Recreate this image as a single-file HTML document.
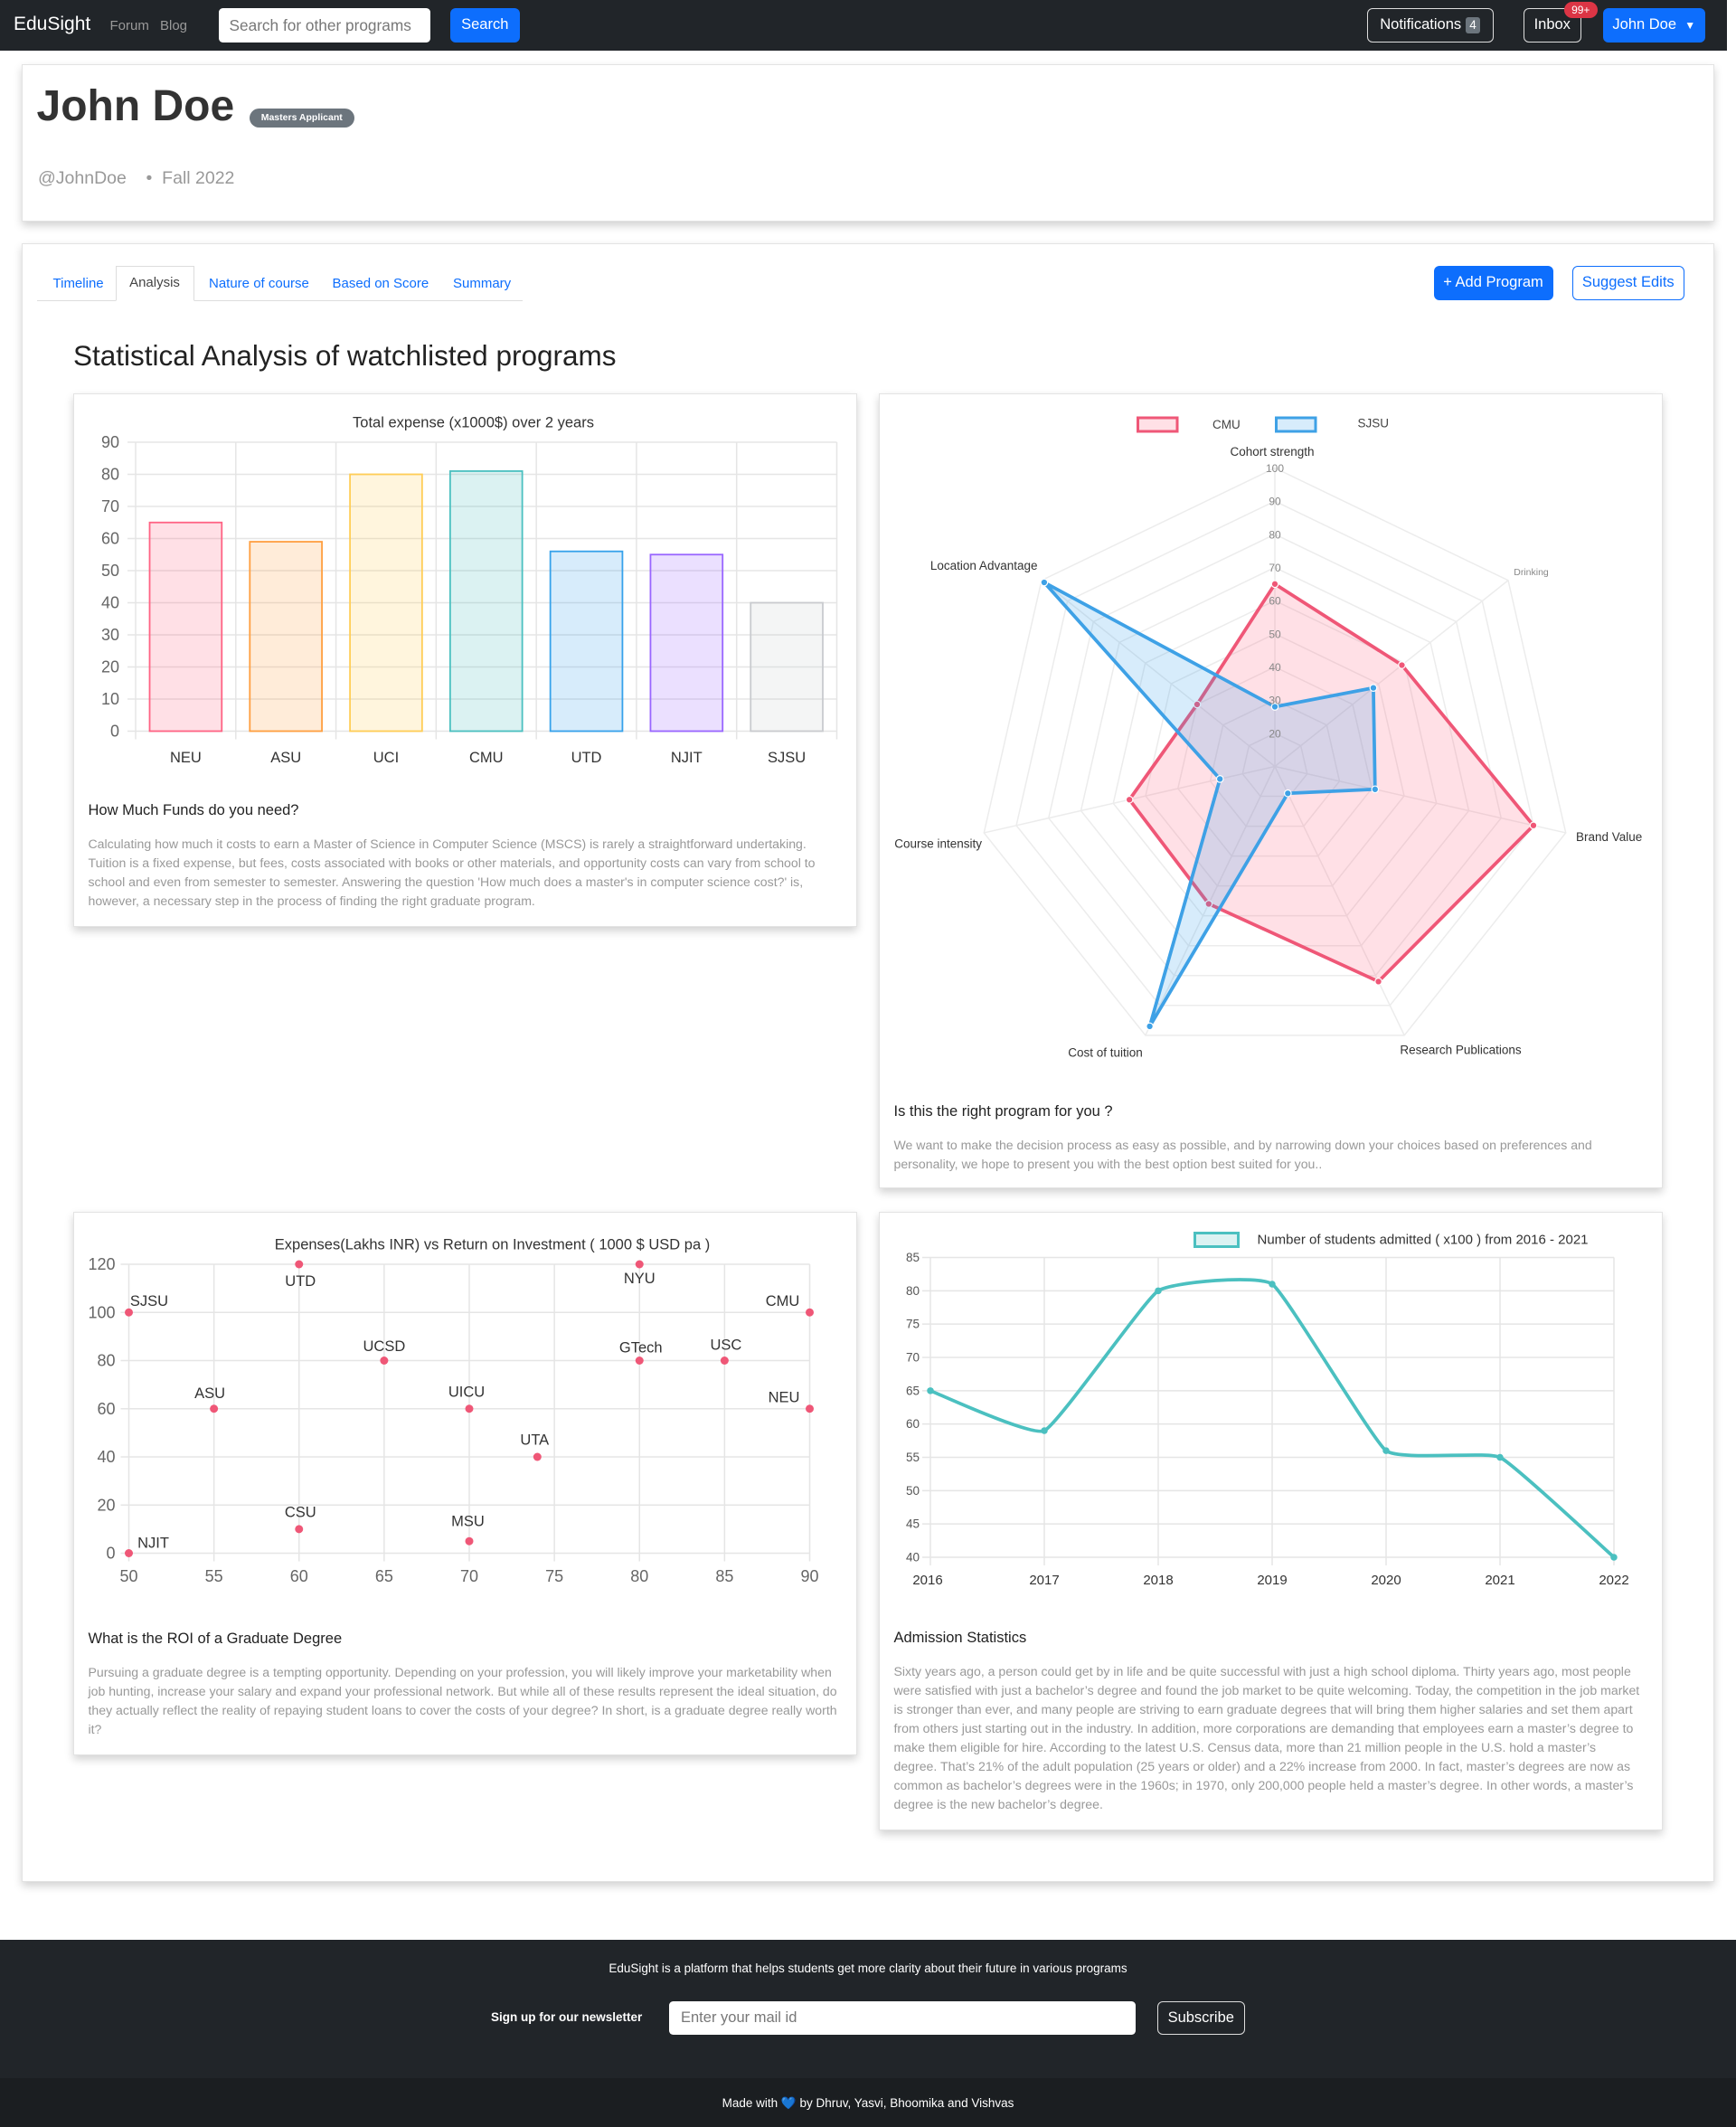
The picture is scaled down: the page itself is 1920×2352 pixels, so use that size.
<!DOCTYPE html>
<html><head><meta charset="utf-8">
<style>
*{box-sizing:border-box;margin:0;padding:0}
html,body{width:1920px;height:2352px;overflow:hidden;background:#fff;font-family:"Liberation Sans",sans-serif}
#root{zoom:1.5;width:1280px;height:1568px;position:relative}
.abs{position:absolute;white-space:nowrap}
.card{position:absolute;background:#fff;border:1px solid #e3e3e3;box-shadow:0 3px 6px rgba(0,0,0,.18)}
.btn{position:absolute;border-radius:4px;font-size:11px;display:flex;align-items:center;justify-content:center;white-space:nowrap}
.tab{position:absolute;font-size:10px;color:#0d6efd;white-space:nowrap}
.ct{position:absolute;font-size:11px;color:#222}
.para{position:absolute;font-size:9.4px;line-height:14px;color:#999}
svg text{font-family:"Liberation Sans",sans-serif}
</style></head><body>
<div id="root">
<div class="abs" style="left:0;top:0;width:1273px;height:37px;background:#212529"></div>
<div class="abs" style="left:10px;top:10px;color:#fff;font-size:14px">EduSight</div>
<div class="abs" style="left:81px;top:13px;color:#999;font-size:10px">Forum</div>
<div class="abs" style="left:118px;top:13px;color:#999;font-size:10px">Blog</div>
<div class="abs" style="left:161px;top:6px;width:156px;height:25px;background:#fff;border-radius:3px;font-size:11.5px;color:#777;padding:6px 8px;overflow:hidden">Search for other programs</div>
<div class="btn" style="left:332px;top:6px;width:51px;height:25px;background:#0d6efd;color:#fff">Search</div>
<div class="btn" style="left:1008px;top:6px;width:93px;height:25px;border:1px solid #ddd;color:#fff">Notifications&nbsp;<span style="background:#6c757d;font-size:9px;padding:1px 3px;border-radius:2px">4</span></div>
<div class="btn" style="left:1123px;top:6px;width:43px;height:25px;border:1px solid #ddd;color:#fff">Inbox</div>
<div class="btn" style="left:1153px;top:1px;width:25px;height:12px;border-radius:7px;background:#dc3545;color:#fff;font-size:8px">99+</div>
<div class="btn" style="left:1182px;top:6px;width:75px;height:25px;background:#0d6efd;color:#fff">John Doe&nbsp;&nbsp;<span style="font-size:8px">▼</span></div>

<div class="card" style="left:16px;top:47px;width:1248px;height:116px"></div>
<div class="abs" style="left:27px;top:60px;font-size:32px;font-weight:bold;color:#333">John Doe</div>
<div class="abs" style="left:184px;top:80px;width:77px;height:14px;border-radius:7px;background:#6c757d;color:#fff;font-size:7px;font-weight:bold;text-align:center;line-height:14px">Masters Applicant</div>
<div class="abs" style="left:28px;top:124px;font-size:13px;color:#999">@JohnDoe &nbsp;&nbsp;&nbsp;• &nbsp;Fall 2022</div>

<div class="card" style="left:16px;top:179px;width:1248px;height:1208px"></div>
<div class="abs" style="left:27px;top:221px;width:358px;height:1px;background:#ddd"></div>
<div class="tab" style="left:39px;top:203px">Timeline</div>
<div class="abs" style="left:85px;top:196px;width:58px;height:26px;border:1px solid #ddd;border-bottom:1px solid #fff;background:#fff;font-size:10px;color:#444;text-align:center;line-height:24px">Analysis</div>
<div class="tab" style="left:154px;top:203px">Nature of course</div>
<div class="tab" style="left:245px;top:203px">Based on Score</div>
<div class="tab" style="left:334px;top:203px">Summary</div>
<div class="btn" style="left:1057px;top:196px;width:88px;height:25px;background:#0d6efd;color:#fff">+ Add Program</div>
<div class="btn" style="left:1159px;top:196px;width:83px;height:25px;border:1px solid #0d6efd;color:#0d6efd">Suggest Edits</div>
<div class="abs" style="left:54px;top:250px;font-size:21px;color:#222">Statistical Analysis of watchlisted programs</div>

<div class="card" style="left:54px;top:290px;width:578px;height:393px"></div>
<div class="card" style="left:648px;top:290px;width:578px;height:586px"></div>
<div class="card" style="left:54px;top:893px;width:578px;height:401px"></div>
<div class="card" style="left:648px;top:893px;width:578px;height:456px"></div>

<svg class="abs" id="charts" style="left:0;top:0" width="1280" height="1568"></svg>

<div class="ct" style="left:65px;top:591px">How Much Funds do you need?</div>
<div class="para" style="left:65px;top:615px;width:545px">Calculating how much it costs to earn a Master of Science in Computer Science (MSCS) is rarely a straightforward undertaking. Tuition is a fixed expense, but fees, costs associated with books or other materials, and opportunity costs can vary from school to school and even from semester to semester. Answering the question 'How much does a master's in computer science cost?' is, however, a necessary step in the process of finding the right graduate program.</div>
<div class="ct" style="left:659px;top:813px">Is this the right program for you ?</div>
<div class="para" style="left:659px;top:837px;width:545px">We want to make the decision process as easy as possible, and by narrowing down your choices based on preferences and personality, we hope to present you with the best option best suited for you..</div>
<div class="ct" style="left:65px;top:1202px">What is the ROI of a Graduate Degree</div>
<div class="para" style="left:65px;top:1226px;width:555px">Pursuing a graduate degree is a tempting opportunity. Depending on your profession, you will likely improve your marketability when job hunting, increase your salary and expand your professional network. But while all of these results represent the ideal situation, do they actually reflect the reality of repaying student loans to cover the costs of your degree? In short, is a graduate degree really worth it?</div>
<div class="ct" style="left:659px;top:1201px">Admission Statistics</div>
<div class="para" style="left:659px;top:1225px;width:552px">Sixty years ago, a person could get by in life and be quite successful with just a high school diploma. Thirty years ago, most people were satisfied with just a bachelor’s degree and found the job market to be quite welcoming. Today, the competition in the job market is stronger than ever, and many people are striving to earn graduate degrees that will bring them higher salaries and set them apart from others just starting out in the industry. In addition, more corporations are demanding that employees earn a master’s degree to make them eligible for hire. According to the latest U.S. Census data, more than 21 million people in the U.S. hold a master’s degree. That’s 21% of the adult population (25 years or older) and a 22% increase from 2000. In fact, master’s degrees are now as common as bachelor’s degrees were in the 1960s; in 1970, only 200,000 people held a master’s degree. In other words, a master’s degree is the new bachelor’s degree.</div>

<div class="abs" style="left:0;top:1430px;width:1280px;height:138px;background:#212529"></div>
<div class="abs" style="left:0;top:1532px;width:1280px;height:36px;background:#1b1e21"></div>
<div class="abs" style="left:0;top:1446px;width:1280px;text-align:center;color:#fff;font-size:9px">EduSight is a platform that helps students get more clarity about their future in various programs</div>
<div class="abs" style="left:362px;top:1482px;color:#fff;font-size:9px;font-weight:bold">Sign up for our newsletter</div>
<div class="abs" style="left:493px;top:1475px;width:344px;height:25px;background:#fff;border-radius:3px;font-size:11px;color:#777;padding:6px 9px">Enter your mail id</div>
<div class="btn" style="left:853px;top:1475px;width:65px;height:25px;border:1px solid #ddd;color:#fff">Subscribe</div>
<div class="abs" style="left:0;top:1545px;width:1280px;text-align:center;color:#fff;font-size:9px">Made with <span style="color:#3d8bfd">💙</span> by Dhruv, Yasvi, Bhoomika and Vishvas</div>
</div>
<script>
// ---- bar chart data
const barCats=["NEU","ASU","UCI","CMU","UTD","NJIT","SJSU"];
const barVals=[65,59,80,81,56,55,40];
const barTicks=[0,10,20,30,40,50,60,70,80,90];
// ---- radar data
const radarAxes=["Cohort strength","Drinking","Brand Value","Research Publications","Cost of tuition","Course intensity","Location Advantage"];
const radarCMU=[65,59,90,82,56,55,40];
const radarSJSU=[28,48,41,19,97,27,99];
const radarTicks=[20,30,40,50,60,70,80,90,100];
// ---- scatter data
const scLabels=["SJSU","UTD","NYU","CMU","UCSD","GTech","USC","ASU","UICU","NEU","UTA","CSU","MSU","NJIT"];
const scX=[50,60,80,90,65,80,85,55,70,90,74,60,70,50];
const scY=[100,120,120,100,80,80,80,60,60,60,40,10,5,0];
const scXTicks=[50,55,60,65,70,75,80,85,90];
const scYTicks=[0,20,40,60,80,100,120];
// ---- line data
const lineYears=[2016,2017,2018,2019,2020,2021,2022];
const lineVals=[65,59,80,81,56,55,40];
const lineTicks=[40,45,50,55,60,65,70,75,80,85];

const svg=document.getElementById('charts');
const NS='http://www.w3.org/2000/svg';
function mk(tag,a,txt){const e=document.createElementNS(NS,tag);for(const k in a)e.setAttribute(k,a[k]);if(txt!==undefined)e.textContent=txt;svg.appendChild(e);return e;}

// Bar chart
(function(){
 const x0=100,x1=617,y0=539,y1=326,max=90;
 const ys=v=>y0-(v/max)*(y0-y1);
 const bw=(x1-x0)/barCats.length;
 const t=mk('text',{x:349,y:315,'text-anchor':'middle','font-size':11,fill:'#333'},'Total expense (x1000$) over 2 years');
 
 barTicks.forEach(v=>{const g=mk('line',{x1:x0-6,x2:x1,y1:ys(v),y2:ys(v),stroke:'#e5e5e5'});
  const l=mk('text',{x:88,y:ys(v)+4,'text-anchor':'end','font-size':12,fill:'#666'},v);});
 for(let i=0;i<=barCats.length;i++){const g=mk('line',{x1:x0+i*bw,x2:x0+i*bw,y1:y1,y2:y0+6,stroke:'#e5e5e5'});}
 const fills=['rgba(255,99,132,.2)','rgba(255,159,64,.2)','rgba(255,205,86,.2)','rgba(75,192,192,.2)','rgba(54,162,235,.2)','rgba(153,102,255,.2)','rgba(201,203,207,.2)'];
 const strokes=['#ff6384','#ff9f40','#ffcd56','#4bc0c0','#36a2eb','#9966ff','#c9cbcf'];
 barCats.forEach((c,i)=>{const bx=x0+i*bw+bw*0.14,w=bw*0.72;
  const r=mk('rect',{x:bx,y:ys(barVals[i]),width:w,height:y0-ys(barVals[i]),fill:fills[i],stroke:strokes[i],'stroke-width':1.2});
  
  const l=mk('text',{x:x0+i*bw+bw/2,y:562,'text-anchor':'middle','font-size':11,fill:'#333'},c);});
})();

// Radar
(function(){
 const cx=940,cy=565,R=220,min=10,max=100,n=radarAxes.length;
 const ang=i=>(-90+i*360/n)*Math.PI/180;
 const pt=(i,v)=>{const r=(v-min)/(max-min)*R;return [cx+r*Math.cos(ang(i)),cy+r*Math.sin(ang(i))];};
 radarTicks.concat([10]).forEach(v=>{const p=[];for(let i=0;i<n;i++)p.push(pt(i,v).join(','));const g=mk('polygon',{points:p.join(' '),fill:'none',stroke:'#ececec'});});
 for(let i=0;i<n;i++){const e=pt(i,max);const g=mk('line',{x1:cx,y1:cy,x2:e[0],y2:e[1],stroke:'#ececec'});}
 function series(vals,stroke,fill,name){const p=vals.map((v,i)=>pt(i,v).join(','));
  const g=mk('polygon',{points:p.join(' '),fill:fill,stroke:stroke,'stroke-width':2.5,'stroke-linejoin':'round'});
  vals.forEach((v,i)=>{const q=pt(i,v);const c=mk('circle',{cx:q[0],cy:q[1],r:2.5,fill:stroke,stroke:'#fff','stroke-width':.8});});}
 series(radarCMU,'#ef5777','rgba(255,99,132,.2)','radar-cmu');
 series(radarSJSU,'#3ea1e6','rgba(54,162,235,.2)','radar-sjsu');
 radarTicks.forEach(v=>{const l=mk('text',{x:cx,y:cy-(v-min)/(max-min)*R+3,'text-anchor':'middle','font-size':8,fill:'#888'},v);});
 const lp=[[938,336,'middle',9],[1129,424,'middle',7],[1162,620,'start',9],[1077,777,'middle',9],[815,779,'middle',9],[724,625,'end',9],[765,420,'end',9]];
 radarAxes.forEach((a,i)=>{const l=mk('text',{x:lp[i][0],y:lp[i][1],'text-anchor':lp[i][2],'font-size':lp[i][3],fill:i==1?'#888':'#333'},a);});
 let r=mk('rect',{x:839,y:308,width:29,height:10,fill:'rgba(255,99,132,.2)',stroke:'#ef5777','stroke-width':2});
 let l=mk('text',{x:894,y:316,'font-size':9,fill:'#444'},'CMU');
 r=mk('rect',{x:941,y:308,width:29,height:10,fill:'rgba(54,162,235,.2)',stroke:'#3ea1e6','stroke-width':2});
 l=mk('text',{x:1001,y:315,'font-size':9,fill:'#444'},'SJSU');
})();

// Scatter
(function(){
 const x0=95,x1=597,y0=1145,y1=932;
 const xs=v=>x0+(v-50)/40*(x1-x0), ys=v=>y0-v/120*(y0-y1);
 const t=mk('text',{x:363,y:921,'text-anchor':'middle','font-size':11,fill:'#333'},'Expenses(Lakhs INR) vs Return on Investment ( 1000 $ USD pa )');
 scXTicks.forEach(v=>{const g=mk('line',{x1:xs(v),x2:xs(v),y1:y1,y2:y0+6,stroke:'#e5e5e5'});
  const l=mk('text',{x:xs(v),y:1166,'text-anchor':'middle','font-size':12,fill:'#666'},v);});
 scYTicks.forEach(v=>{const g=mk('line',{x1:x0-6,x2:x1,y1:ys(v),y2:ys(v),stroke:'#e5e5e5'});
  const l=mk('text',{x:85,y:ys(v)+4,'text-anchor':'end','font-size':12,fill:'#666'},v);});
 const off=[[15,-5],[1,16],[0,14],[-20,-5],[0,-7],[1,-6],[1,-8],[-3,-8],[-2,-9],[-19,-5],[-2,-9],[1,-9],[-1,-11],[18,-4]];
 scLabels.forEach((s,i)=>{const c=mk('circle',{cx:xs(scX[i]),cy:ys(scY[i]),r:3,fill:'#ef5777'});
  const l=mk('text',{x:xs(scX[i])+off[i][0],y:ys(scY[i])+off[i][1],'text-anchor':'middle','font-size':11,fill:'#333'},s);});
})();

// Line
(function(){
 const x0=686,x1=1190,y0=1148,y1=927;
 const xs=v=>x0+(v-2016)/6*(x1-x0), ys=v=>y0-(v-40)/45*(y0-y1);
 lineYears.forEach(v=>{const g=mk('line',{x1:xs(v),x2:xs(v),y1:y1,y2:y0+6,stroke:'#e5e5e5'});
  const l=mk('text',{x:xs(v)-(v==2016?2:0),y:1168,'text-anchor':'middle','font-size':10,fill:'#333'},v);});
 lineTicks.forEach(v=>{const g=mk('line',{x1:x0-6,x2:x1,y1:ys(v),y2:ys(v),stroke:'#e5e5e5'});
  const l=mk('text',{x:678,y:ys(v)+3,'text-anchor':'end','font-size':9,fill:'#555'},v);});
 const pts=lineYears.map((y,i)=>[xs(y),ys(lineVals[i])]);
 const T=0.06;
 let d='M'+pts[0].join(',');
 for(let i=0;i<pts.length-1;i++){const p0=pts[Math.max(0,i-1)],p1=pts[i],p2=pts[i+1],p3=pts[Math.min(pts.length-1,i+2)];
  const c1=[p1[0]+(p2[0]-p0[0])*T,p1[1]+(p2[1]-p0[1])*T],c2=[p2[0]-(p3[0]-p1[0])*T,p2[1]-(p3[1]-p1[1])*T];
  d+=' C'+c1.join(',')+' '+c2.join(',')+' '+p2.join(',');}
 const pa=mk('path',{d:d,fill:'none',stroke:'#4bc0c0','stroke-width':2.5});
 pts.forEach(p=>{const c=mk('circle',{cx:p[0],cy:p[1],r:2.5,fill:'#4bc0c0'});});
 const r=mk('rect',{x:881,y:909,width:32,height:10,fill:'rgba(75,192,192,.2)',stroke:'#4bc0c0','stroke-width':2});
 const l=mk('text',{x:927,y:917,'font-size':10,fill:'#333'},'Number of students admitted ( x100 ) from 2016 - 2021');
})();
</script>
</body></html>
